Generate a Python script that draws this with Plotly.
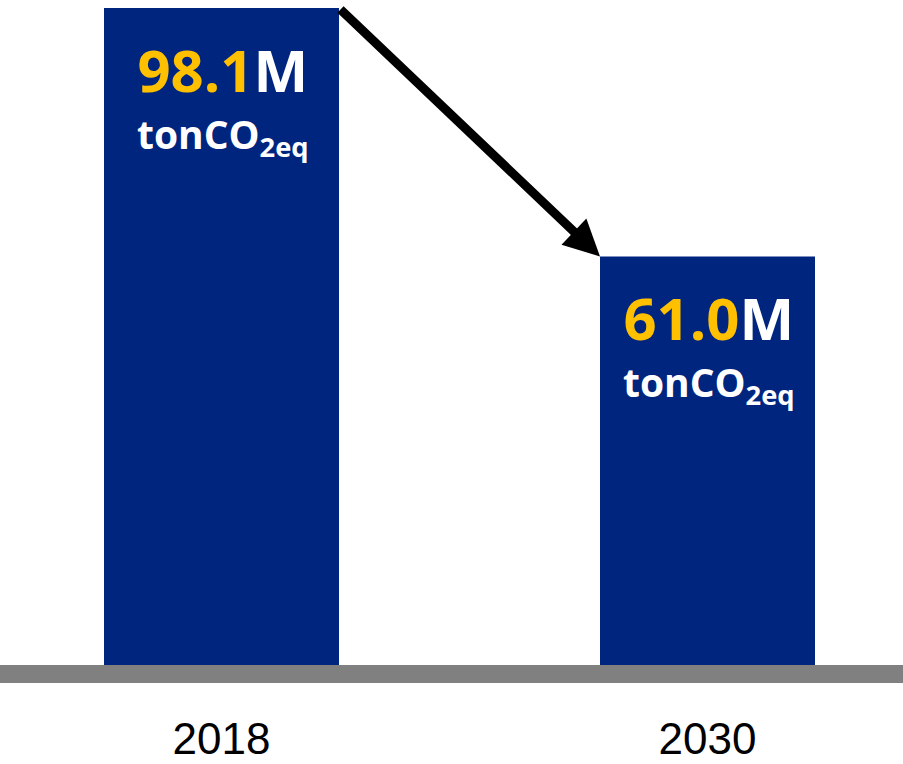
import plotly.graph_objects as go

# Emissions (million tonnes CO2-equivalent)
years = ["2018", "2030"]
emissions = [98.1, 61.0]
unit_label = "tonCO<sub>2eq</sub>"

# Canvas geometry (pixels)
W, H = 903, 764
plot_bottom_px = 683          # bottom of the grey floor band
floor_px = 18                 # floor band thickness
zero_px = plot_bottom_px - floor_px
top_px = 8                    # top of the tallest bar
centers_px = [221.5, 707.5]
widths_px = [235, 215]

px_per_unit = (zero_px - top_px) / max(emissions)
y_min = -floor_px / px_per_unit
y_max = max(emissions) + top_px / px_per_unit

px_per_x = centers_px[1] - centers_px[0]
x_pos = list(range(len(years)))
x_min = -centers_px[0] / px_per_x
x_max = (len(years) - 1) + (W - centers_px[-1]) / px_per_x
bar_widths = [w / px_per_x for w in widths_px]

BAR_COLOR = "#00257f"
GOLD = "#ffc000"
FLOOR = "#808080"
LABEL_FONT = "Open Sans"

fig = go.Figure()
fig.add_trace(go.Bar(
    x=x_pos,
    y=emissions,
    width=bar_widths,
    marker=dict(color=BAR_COLOR, line=dict(width=0)),
    hoverinfo="skip",
))

# grey floor under the bars
fig.add_shape(
    type="rect", xref="paper", x0=0, x1=1,
    yref="y", ysizemode="pixel", yanchor=0, y0=-floor_px, y1=0,
    fillcolor=FLOOR, line=dict(width=0), layer="above",
)

annotations = []
for xi, val in zip(x_pos, emissions):
    label = (
        f"<span style='font-size:58px'><span style='color:{GOLD}'>{val:.1f}</span>M</span>"
        f"<br><span style='font-size:39px'>{unit_label}</span>"
    )
    annotations.append(dict(
        x=xi, y=val, xref="x", yref="y",
        text=label, align="center",
        showarrow=False, yanchor="top", yshift=-20, xshift=1,
        font=dict(family=LABEL_FONT, size=44, color="white", weight="bold"),
    ))

# downward arrow from the 2018 bar to the 2030 bar
annotations.append(dict(
    x=x_pos[1] - bar_widths[1] / 2, y=emissions[1],
    ax=x_pos[0] + bar_widths[0] / 2, ay=emissions[0],
    xref="x", yref="y", axref="x", ayref="y",
    text="", showarrow=True,
    arrowhead=2, arrowsize=0.8, arrowwidth=9, arrowcolor="black",
    standoff=0, startstandoff=0,
))

fig.update_layout(
    width=W, height=H,
    margin=dict(l=0, r=0, t=0, b=H - plot_bottom_px, pad=0, autoexpand=False),
    paper_bgcolor="white", plot_bgcolor="white",
    showlegend=False,
    annotations=annotations,
    xaxis=dict(
        range=[x_min, x_max], tickvals=x_pos, ticktext=years,
        showgrid=False, zeroline=False, showline=False, ticks="",
        tickfont=dict(family="Liberation Sans, Arial, sans-serif", size=44, color="black"),
        ticklabelstandoff=26, automargin=False,
    ),
    yaxis=dict(
        range=[y_min, y_max], visible=False, showgrid=False, zeroline=False,
        automargin=False,
    ),
)

fig.write_html("out.html")
